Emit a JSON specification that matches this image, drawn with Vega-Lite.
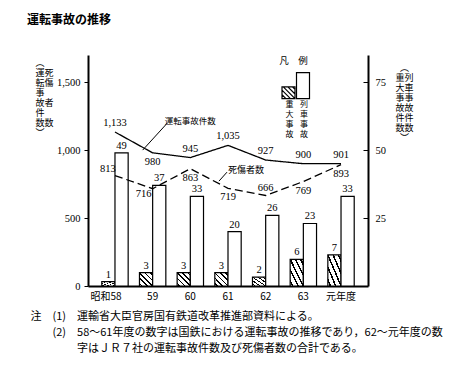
{
  "$schema": "https://vega.github.io/schema/vega-lite/v6.json",
  "width": 280,
  "height": 231,
  "autosize": {"type": "none"},
  "padding": {"left": 88, "top": 55, "right": 108, "bottom": 81},
  "background": "white",
  "config": {
    "view": {"stroke": null},
    "font": "Noto Sans CJK JP",
    "text": {"color": "black"},
    "axis": {"grid": false, "domainColor": "black", "domainWidth": 2, "tickColor": "black", "labelColor": "black", "titleColor": "black"},
    "legend": {
      "orient": "none",
      "titleFontSize": 9.5,
      "titleFontWeight": "normal",
      "titleColor": "black",
      "titlePadding": 21,
      "direction": "horizontal",
      "symbolSize": 676,
      "symbolStrokeColor": "black",
      "symbolStrokeWidth": 1.2,
      "symbolOpacity": 1,
      "labelAlign": "center",
      "labelOffset": -13,
      "labelBaseline": "top",
      "labelFontSize": 8,
      "labelColor": "black"
    }
  },
  "title": {
    "text": "運転事故の推移",
    "anchor": "start",
    "frame": "group",
    "dx": -61,
    "dy": -28,
    "offset": 0,
    "fontSize": 12,
    "fontWeight": "bold",
    "font": "Noto Sans CJK JP",
    "color": "black"
  },
  "datasets": {
    "d": [
      {"year": "昭和58", "accidents": 1133, "casualties": 813, "major": 1, "train": 49},
      {"year": "59", "accidents": 980, "casualties": 716, "major": 3, "train": 37},
      {"year": "60", "accidents": 945, "casualties": 863, "major": 3, "train": 33},
      {"year": "61", "accidents": 1035, "casualties": 719, "major": 3, "train": 20},
      {"year": "62", "accidents": 927, "casualties": 666, "major": 2, "train": 26},
      {"year": "63", "accidents": 900, "casualties": 769, "major": 6, "train": 23},
      {"year": "元年度", "accidents": 901, "casualties": 893, "major": 7, "train": 33}
    ]
  },
  "data": {"name": "d"},
  "encoding": {
    "x": {
      "field": "year",
      "type": "nominal",
      "sort": null,
      "scale": {"paddingInner": 0.3, "paddingOuter": 0.366},
      "axis": {
        "labelAngle": 0,
        "ticks": false,
        "labelFontSize": 10,
        "labelPadding": 5,
        "labelFont": "Noto Sans CJK JP",
        "labelOffset": {"condition": {"test": "datum.value == '昭和58'", "value": -9}, "value": 0},
        "title": [
          "注　(1)　運輸省大臣官房国有鉄道改革推進部資料による。",
          "\u200b　　(2)　58～61年度の数字は国鉄における運転事故の推移であり，62～元年度の数",
          "\u200b　　　　 字はＪＲ７社の運転事故件数及び死傷者数の合計である。"
        ],
        "titleAngle": 0,
        "titleAlign": "left",
        "titleBaseline": "top",
        "titleX": -58,
        "titleY": 24,
        "titleFontSize": 11,
        "titleFontWeight": "normal",
        "titleLineHeight": 16,
        "titleFont": "Noto Sans CJK JP"
      }
    }
  },
  "layer": [
    {
      "transform": [
        {"fold": ["major", "train"], "as": ["series", "value"]},
        {"filter": "datum.series == 'major'"}
      ],
      "encoding": {
        "xOffset": {"field": "series", "type": "nominal", "scale": {"domain": ["major", "train"], "paddingInner": 0, "paddingOuter": 0}},
        "y": {"field": "value", "type": "quantitative", "scale": {"domain": [0, 52], "nice": false}, "axis": null}
      },
      "layer": [
        {
          "mark": {
            "type": "bar",
            "stroke": "black",
            "strokeWidth": 1.2,
            "fill": {
              "gradient": "linear",
              "x1": 0, "y1": 1, "x2": 1, "y2": 0,
              "stops": [
                {"offset": 0, "color": "white"},
                {"offset": 0.07, "color": "white"},
                {"offset": 0.07, "color": "black"},
                {"offset": 0.13, "color": "black"},
                {"offset": 0.13, "color": "white"},
                {"offset": 0.27, "color": "white"},
                {"offset": 0.27, "color": "black"},
                {"offset": 0.33, "color": "black"},
                {"offset": 0.33, "color": "white"},
                {"offset": 0.47, "color": "white"},
                {"offset": 0.47, "color": "black"},
                {"offset": 0.53, "color": "black"},
                {"offset": 0.53, "color": "white"},
                {"offset": 0.67, "color": "white"},
                {"offset": 0.67, "color": "black"},
                {"offset": 0.73, "color": "black"},
                {"offset": 0.73, "color": "white"},
                {"offset": 0.87, "color": "white"},
                {"offset": 0.87, "color": "black"},
                {"offset": 0.93, "color": "black"},
                {"offset": 0.93, "color": "white"},
                {"offset": 1, "color": "white"}
              ]
            }
          }
        },
        {
          "mark": {"type": "text", "dy": -7, "fontSize": 10.5, "font": "Liberation Sans Narrow"},
          "encoding": {"text": {"field": "value", "type": "quantitative"}}
        },
        {
          "transform": [{"filter": "false"}],
          "mark": {"type": "point", "filled": false, "color": "black", "strokeWidth": 1.2, "opacity": 1},
          "encoding": {
            "shape": {
              "field": "series",
              "type": "nominal",
              "scale": {
                "domain": ["重大事故"],
                "range": ["M-0.5,-1.05H0.5V-0.15H-0.5Z M0.3,-1.05L0.5,-0.85 M-0.05,-1.05L0.5,-0.5 M-0.4,-1.05L0.5,-0.15 M-0.5,-0.8L0.15,-0.15 M-0.5,-0.45L-0.2,-0.15"]
              },
              "legend": {
                "legendX": 186.5,
                "legendY": 1,
                "title": "\u200b\u2002凡　例",
                "labelExpr": "['重', '大', '事', '故']"
              }
            }
          }
        }
      ]
    },
    {
      "transform": [
        {"fold": ["major", "train"], "as": ["series", "value"]},
        {"filter": "datum.series == 'train'"}
      ],
      "encoding": {
        "xOffset": {"field": "series", "type": "nominal", "scale": {"domain": ["major", "train"], "paddingInner": 0, "paddingOuter": 0}},
        "y": {
          "field": "value",
          "type": "quantitative",
          "scale": {"domain": [0, 85], "nice": false},
          "axis": {
            "orient": "right",
            "values": [25, 50, 75],
            "tickSize": -5,
            "labelPadding": 12,
            "labelFontSize": 10.5,
            "labelFont": "Liberation Sans Narrow",
            "title": ["︵", "重列", "大車", "事事", "故故", "件件", "数数", "︶"],
            "titleAngle": 0,
            "titleAlign": "center",
            "titleBaseline": "top",
            "titleX": 36,
            "titleY": 8,
            "titleFontSize": 9,
            "titleFontWeight": "normal",
            "titleLineHeight": 10
          }
        }
      },
      "layer": [
        {"mark": {"type": "bar", "fill": "white", "stroke": "black", "strokeWidth": 1.2}},
        {
          "mark": {"type": "text", "dy": -7, "fontSize": 10.5, "font": "Liberation Sans Narrow"},
          "encoding": {"text": {"field": "value", "type": "quantitative"}}
        },
        {
          "transform": [{"filter": "false"}],
          "mark": {"type": "point", "filled": false, "color": "black", "strokeWidth": 1.2, "opacity": 1},
          "encoding": {
            "shape": {
              "field": "series",
              "type": "nominal",
              "scale": {
                "domain": ["列車事故"],
                "range": ["M-0.5,-2.15H0.5V-0.15H-0.5Z"]
              },
              "legend": {
                "legendX": 201,
                "legendY": 1,
                "title": "\u200b",
                "labelExpr": "['列', '車', '事', '故']"
              }
            }
          }
        }
      ]
    },
    {
      "transform": [{"fold": ["accidents", "casualties"], "as": ["series", "value"]}],
      "encoding": {
        "y": {
          "field": "value",
          "type": "quantitative",
          "scale": {"domain": [0, 1700], "nice": false},
          "axis": {
            "orient": "left",
            "values": [0, 500, 1000, 1500],
            "format": ",.0f",
            "tickSize": 4,
            "labelPadding": 4,
            "labelFontSize": 10.5,
            "labelFont": "Liberation Sans Narrow",
            "title": ["︵", "運死", "転傷", "事", "故者", "件", "数数", "︶"],
            "titleAngle": 0,
            "titleAlign": "left",
            "titleBaseline": "top",
            "titleX": -53,
            "titleY": 3,
            "titleFontSize": 9,
            "titleFontWeight": "normal",
            "titleLineHeight": 10
          }
        }
      },
      "layer": [
        {
          "mark": {"type": "line", "color": "black", "strokeWidth": 1.3},
          "encoding": {
            "detail": {"field": "series"},
            "strokeDash": {"field": "series", "type": "nominal", "scale": {"domain": ["accidents", "casualties"], "range": [[1, 0], [8, 4]]}, "legend": null}
          }
        },
        {
          "transform": [{"filter": "datum.series == 'accidents' && datum.year != '59'"}],
          "mark": {"type": "text", "dy": -9, "fontSize": 10.5, "font": "Liberation Sans Narrow"},
          "encoding": {"text": {"field": "value", "type": "quantitative", "format": ","}}
        },
        {
          "transform": [{"filter": "datum.series == 'accidents' && datum.year == '59'"}],
          "mark": {"type": "text", "dy": 9, "fontSize": 10.5, "font": "Liberation Sans Narrow"},
          "encoding": {"text": {"field": "value", "type": "quantitative", "format": ","}}
        },
        {
          "transform": [{"filter": "datum.series == 'casualties' && indexof(['60', '61', '63', '元年度'], datum.year) >= 0"}],
          "mark": {"type": "text", "dy": 9, "fontSize": 10.5, "font": "Liberation Sans Narrow"},
          "encoding": {"text": {"field": "value", "type": "quantitative", "format": ","}}
        },
        {
          "transform": [{"filter": "datum.series == 'casualties' && datum.year == '62'"}],
          "mark": {"type": "text", "dy": -8, "fontSize": 10.5, "font": "Liberation Sans Narrow"},
          "encoding": {"text": {"field": "value", "type": "quantitative", "format": ","}}
        },
        {
          "transform": [{"filter": "datum.series == 'casualties' && datum.year == '昭和58'"}],
          "mark": {"type": "text", "dx": -7, "dy": -7, "fontSize": 10.5, "font": "Liberation Sans Narrow"},
          "encoding": {"text": {"field": "value", "type": "quantitative", "format": ","}}
        },
        {
          "transform": [{"filter": "datum.series == 'casualties' && datum.year == '59'"}],
          "mark": {"type": "text", "dx": -9, "dy": 5, "fontSize": 10.5, "font": "Liberation Sans Narrow"},
          "encoding": {"text": {"field": "value", "type": "quantitative", "format": ","}}
        },
        {
          "transform": [{"filter": "datum.series == 'accidents' && datum.year == '60'"}],
          "mark": {"type": "text", "text": "運転事故件数", "fontSize": 8.5},
          "encoding": {"y": {"datum": 1213}}
        },
        {
          "transform": [{"filter": "datum.series == 'accidents' && datum.year == '60'"}],
          "mark": {"type": "rule", "color": "black", "strokeWidth": 1, "xOffset": -23, "x2Offset": -10},
          "encoding": {"y": {"datum": 1199}, "x2": {"datum": "59"}, "y2": {"datum": 1000}}
        },
        {
          "transform": [{"filter": "datum.series == 'casualties' && datum.year == '61'"}],
          "mark": {"type": "text", "text": "死傷者数", "fontSize": 9, "align": "left"},
          "encoding": {"y": {"datum": 853}}
        },
        {
          "transform": [{"filter": "datum.series == 'casualties' && datum.year == '61'"}],
          "mark": {"type": "rule", "color": "black", "strokeWidth": 1, "xOffset": -1, "x2Offset": -9},
          "encoding": {"y": {"datum": 838}, "x2": {"datum": "61"}, "y2": {"datum": 772}}
        }
      ]
    }
  ],
  "resolve": {"scale": {"y": "independent", "shape": "independent"}, "legend": {"shape": "independent"}}
}
